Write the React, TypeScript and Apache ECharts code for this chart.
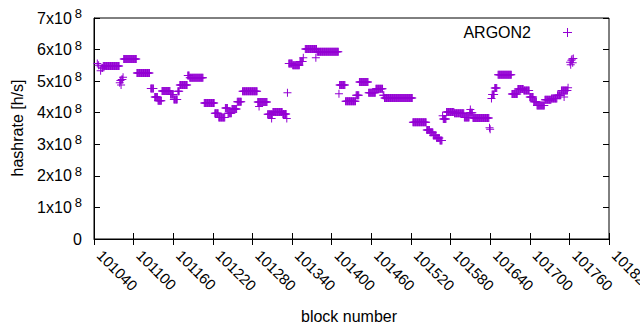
import React, { useEffect, useRef } from "react";
import * as echarts from "echarts";

// Runs of consecutive blocks sharing one hashrate, values in h/s
const runStartBlocks = [
  101045, 101047, 101050, 101052, 101054, 101079, 101080, 101081, 101082, 101084,
  101085, 101105, 101126, 101132, 101137, 101143, 101156, 101161, 101167, 101170,
  101182, 101185, 101207, 101223, 101229, 101239, 101243, 101249, 101257, 101265,
  101288, 101290, 101303, 101309, 101311, 101326, 101332, 101333, 101335, 101341,
  101352, 101357, 101360, 101376, 101378, 101411, 101412, 101421, 101437, 101442,
  101456, 101467, 101478, 101480, 101523, 101544, 101549, 101554, 101559, 101564,
  101568, 101569, 101574, 101586, 101601, 101609, 101610, 101614, 101639, 101640,
  101642, 101643, 101647, 101652, 101673, 101682, 101691, 101700, 101706, 101711,
  101723, 101733, 101742, 101748, 101752, 101758, 101761, 101762, 101763,
  101764, 101765, 101766,
];
const runEndBlocks = [
  101045, 101047, 101050, 101053, 101078, 101079, 101080, 101081, 101083, 101084,
  101104, 101124, 101130, 101136, 101142, 101155, 101160, 101166, 101169, 101181,
  101184, 101205, 101222, 101228, 101238, 101242, 101248, 101256, 101263, 101287,
  101302, 101290, 101310, 101309, 101325, 101331, 101332, 101333, 101340, 101351,
  101356, 101357, 101377, 101376, 101410, 101411, 101420, 101436, 101441, 101455,
  101466, 101477, 101479, 101522, 101543, 101548, 101553, 101558, 101563, 101567,
  101568, 101573, 101585, 101600, 101608, 101613, 101610, 101638, 101639, 101640,
  101642, 101646, 101650, 101672, 101681, 101690, 101699, 101705, 101710, 101722,
  101732, 101741, 101747, 101757, 101752, 101758, 101761, 101762, 101763,
  101764, 101765, 101766,
];
const runHashrates = [
  5.56e8, 5.5e8, 5.33e8, 5.42e8, 5.48e8, 4.95e8, 5.02e8, 4.88e8, 5.05e8, 5.12e8,
  5.7e8, 5.26e8, 4.77e8, 4.5e8, 4.38e8, 4.69e8, 4.58e8, 4.42e8, 4.68e8, 4.88e8,
  5.18e8, 5.11e8, 4.31e8, 3.98e8, 3.85e8, 4.15e8, 3.98e8, 4.12e8, 4.35e8, 4.68e8,
  4.34e8, 4.2e8, 3.95e8, 3.82e8, 4.02e8, 3.96e8, 3.82e8, 4.63e8, 5.56e8, 5.5e8,
  5.62e8, 5.74e8, 6.02e8, 5.74e8, 5.93e8, 4.6e8, 4.88e8, 4.36e8, 4.55e8, 4.97e8,
  4.63e8, 4.76e8, 4.55e8, 4.47e8, 3.7e8, 3.45e8, 3.38e8, 3.28e8, 3.2e8, 3.12e8,
  3.9e8, 3.8e8, 4.02e8, 3.98e8, 3.85e8, 4.0e8, 4.1e8, 3.83e8, 3.52e8, 3.48e8,
  4.45e8, 4.58e8, 4.78e8, 5.2e8, 4.59e8, 4.75e8, 4.7e8, 4.5e8, 4.35e8, 4.23e8,
  4.41e8, 4.45e8, 4.55e8, 4.7e8, 4.5e8, 4.79e8, 5.6e8, 5.52e8, 5.66e8,
  5.7e8, 5.58e8, 5.72e8,
];

const xMin = 101040;
const xMax = 101820;
const xStep = 60;
const yMax = 7e8;
const yStep = 1e8;
const seriesName = "ARGON2";
const xTitle = "block number";
const yTitle = "hashrate [h/s]";

const FONT = "Liberation Sans, Arial, sans-serif";
const PURPLE = "#9400d3";
const PLUS = "path://M0,3.5H8V4.5H0Z M3.5,0H4.5V8H3.5Z";

export default function App() {
  const ref = useRef<HTMLDivElement>(null);
  useEffect(() => {
    document.body.style.margin = "0";
    if (!ref.current) return;
    const chart = echarts.init(ref.current, undefined, { renderer: "svg" });

    const points: [number, number][] = [];
    for (let i = 0; i < runStartBlocks.length; i++) {
      for (let b = runStartBlocks[i]; b <= runEndBlocks[i]; b++) {
        points.push([b, runHashrates[i]]);
      }
    }

    const yLabel = (v: number) =>
      v === 0 ? "{b|0}" : `{b|${Math.round(v / 1e8)}x10}{s|8}`;

    const tickStyle = { show: true, inside: true, length: 6, lineStyle: { color: "#000", width: 1 } };

    chart.setOption({
      animation: false,
      grid: {
        left: 94,
        right: 31,
        top: 18,
        bottom: 91,
        show: true,
        borderColor: "#000",
        borderWidth: 1,
        backgroundColor: "transparent",
        containLabel: false,
        outerBoundsMode: "none",
      },
      xAxis: [
        {
          type: "value",
          min: xMin,
          max: xMax,
          interval: xStep,
          position: "bottom",
          axisLine: { show: true, lineStyle: { color: "#000", width: 1 } },
          axisTick: tickStyle,
          splitLine: { show: false },
          axisLabel: {
            rotate: -45,
            margin: 8,
            padding: [0, 0, 0, 8],
            color: "#000",
            fontSize: 15,
            fontFamily: FONT,
            showMaxLabel: true,
            hideOverlap: false,
            formatter: (v: number) => String(v),
          },
        },
        {
          type: "value",
          min: xMin,
          max: xMax,
          interval: xStep,
          position: "top",
          axisLine: { show: false },
          axisTick: tickStyle,
          splitLine: { show: false },
          axisLabel: { show: false },
        },
      ],
      yAxis: [
        {
          type: "value",
          min: 0,
          max: yMax,
          interval: yStep,
          position: "left",
          axisLine: { show: true, lineStyle: { color: "#000", width: 1 } },
          axisTick: tickStyle,
          splitLine: { show: false },
          axisLabel: {
            margin: 12,
            color: "#000",
            fontFamily: FONT,
            formatter: yLabel,
            rich: {
              b: { fontSize: 16, lineHeight: 22, fontFamily: FONT, color: "#000" },
              s: {
                fontSize: 13,
                lineHeight: 13,
                verticalAlign: "top",
                fontFamily: FONT,
                color: "#000",
                padding: [0, 0, 0, 3],
              },
            },
          },
        },
        {
          type: "value",
          min: 0,
          max: yMax,
          interval: yStep,
          position: "right",
          axisLine: { show: false },
          axisTick: tickStyle,
          splitLine: { show: false },
          axisLabel: { show: false },
        },
      ],
      series: [
        {
          name: seriesName,
          type: "scatter",
          xAxisIndex: 0,
          yAxisIndex: 0,
          symbol: PLUS,
          symbolSize: 8,
          itemStyle: { color: PURPLE, opacity: 1 },
          emphasis: { disabled: true },
          data: points,
        },
      ],
      graphic: [
        {
          type: "text",
          x: 17,
          y: 128,
          rotation: Math.PI / 2,
          style: {
            text: yTitle,
            fontSize: 16,
            fontFamily: FONT,
            fill: "#000",
            align: "center",
            verticalAlign: "middle",
          },
        },
        {
          type: "text",
          x: 349,
          y: 316,
          style: {
            text: xTitle,
            fontSize: 16,
            fontFamily: FONT,
            fill: "#000",
            align: "center",
            verticalAlign: "middle",
          },
        },
        {
          type: "text",
          x: 531,
          y: 32,
          style: {
            text: seriesName,
            fontSize: 16,
            fontFamily: FONT,
            fill: "#000",
            align: "right",
            verticalAlign: "middle",
          },
        },
        {
          type: "line",
          shape: { x1: 563, y1: 32.5, x2: 572, y2: 32.5 },
          style: { stroke: PURPLE, lineWidth: 1 },
        },
        {
          type: "line",
          shape: { x1: 567.5, y1: 28, x2: 567.5, y2: 37 },
          style: { stroke: PURPLE, lineWidth: 1 },
        },
      ],
    });
    return () => chart.dispose();
  }, []);
  return <div ref={ref} style={{ width: 640, height: 330 }} />;
}
